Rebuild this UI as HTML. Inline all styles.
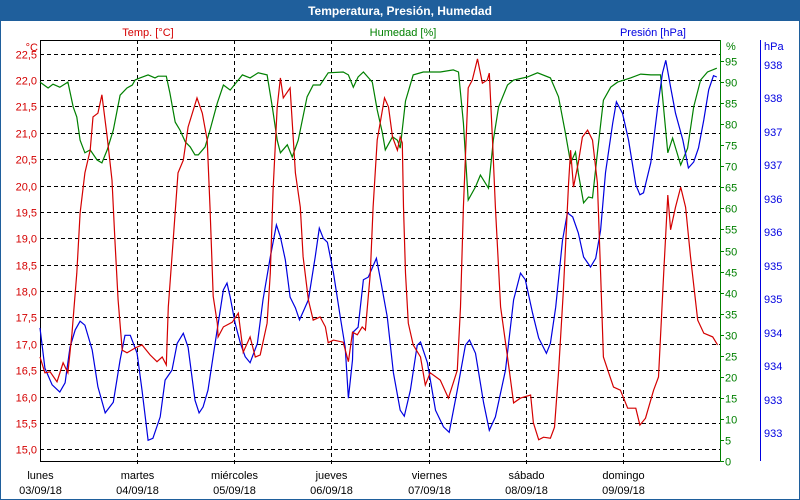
<!DOCTYPE html>
<html><head><meta charset="utf-8"><style>
html,body{margin:0;padding:0;background:#fff;}
#wrap{position:relative;width:798px;height:498px;border:1px solid #1f5f9c;background:#fff;overflow:hidden;font-family:"Liberation Sans",sans-serif;}
#title{position:absolute;left:0;top:0;width:798px;height:20px;background:#1f5f9c;color:#fff;font-weight:bold;font-size:12px;line-height:20px;text-align:center;}
svg text{font-family:"Liberation Sans",sans-serif;font-size:11px;}
</style></head><body>
<div id="wrap">
<div id="title">Temperatura, Presión, Humedad</div>
<svg id="chart" width="798" height="498" style="position:absolute;left:0;top:0"></svg>
</div>
<script>
const dayNames = ["lunes","martes","miércoles","jueves","viernes","sábado","domingo"];
const dayDates = ["03/09/18","04/09/18","05/09/18","06/09/18","07/09/18","08/09/18","09/09/18"];
const tempTicks = [15.0,15.5,16.0,16.5,17.0,17.5,18.0,18.5,19.0,19.5,20.0,20.5,21.0,21.5,22.0,22.5];
const humTicks = [0,5,10,15,20,25,30,35,40,45,50,55,60,65,70,75,80,85,90,95];
const presTicks = [938.4,937.9,937.4,936.9,936.4,935.9,935.4,934.9,934.4,933.9,933.4,932.9];
// [hours since start, °C]
const tempSeries = [[0,16.75],[1.2,16.45],[2.5,16.47],[4.2,16.28],[5.7,16.64],[6.9,16.45],[7.9,17.2],[9.1,18.34],[9.9,19.48],[11.1,20.24],[12.4,20.67],[13.1,21.3],[14.3,21.37],[15.3,21.72],[16.6,20.92],[17.8,20.1],[18.5,18.97],[19.3,17.83],[20.3,16.88],[21.5,16.83],[23.5,16.92],[25.2,16.98],[27.2,16.79],[28.9,16.66],[30.2,16.75],[31.2,16.6],[31.7,17.7],[32.9,18.97],[34.1,20.24],[35.4,20.48],[36.6,21.11],[38.8,21.66],[40.1,21.37],[41.3,20.86],[42.0,19.59],[42.8,17.9],[43.8,17.39],[44.0,17.13],[45.3,17.32],[47.5,17.41],[49.0,17.58],[50.2,16.84],[51.9,17.13],[53.2,16.75],[54.4,16.79],[56.1,17.39],[56.9,18.34],[57.6,19.92],[58.6,21.49],[59.4,22.04],[60.1,21.66],[61.8,21.85],[63.1,20.24],[64.3,19.59],[65.0,18.65],[66.3,17.83],[67.5,17.45],[69.2,17.51],[70.5,17.32],[71.2,17.02],[72.5,17.07],[74.9,17.03],[76.2,16.66],[77.2,17.22],[78.4,17.17],[79.6,17.32],[80.4,17.26],[81.6,18.34],[82.3,19.59],[83.3,20.86],[85.1,21.66],[86.1,21.49],[87.1,20.92],[88.3,20.67],[89.0,20.92],[89.5,20.81],[89.8,19.59],[90.3,18.34],[91.0,17.39],[92.2,16.98],[94.0,16.75],[95.2,16.22],[96.4,16.45],[98.9,16.31],[100.9,15.97],[103.1,16.5],[103.9,17.7],[104.6,19.59],[105.8,21.85],[106.8,22.0],[108.1,22.4],[109.3,21.94],[110.5,22.0],[111.0,22.13],[111.8,20.86],[112.5,19.59],[113.8,17.7],[115.5,16.75],[117.0,15.88],[118.7,15.97],[121.2,16.03],[121.9,15.5],[123.2,15.18],[124.4,15.23],[126.1,15.21],[127.1,15.42],[128.1,16.45],[129.3,18.02],[130.6,20.05],[131.1,20.67],[131.8,19.97],[133.0,20.43],[134.0,20.92],[135.3,21.05],[136.5,20.86],[137.7,20.05],[138.5,18.34],[139.2,16.75],[140.5,16.45],[141.7,16.18],[143.4,16.12],[145.2,15.78],[147.2,15.78],[148.2,15.46],[149.6,15.59],[151.6,16.12],[152.8,16.37],[154.1,18.34],[155.1,19.82],[155.8,19.16],[157.0,19.59],[158.3,19.97],[159.5,19.59],[160.7,18.65],[162.5,17.45],[164.0,17.2],[166.2,17.13],[167.4,16.98]];
// [hours, %]
const humSeries = [[0,90.0],[2.0,88.6],[3.2,89.5],[4.9,88.8],[6.9,90.0],[8.2,84.1],[9.1,81.7],[9.9,76.2],[11.1,73.2],[12.4,73.9],[14.1,71.5],[15.3,70.8],[16.6,73.9],[18.1,78.6],[19.8,86.9],[21.5,88.6],[22.8,89.3],[23.5,90.5],[24.7,91.0],[26.7,91.7],[28.4,91.0],[29.2,91.4],[31.2,91.4],[32.1,87.4],[33.4,80.5],[34.6,78.6],[35.9,75.8],[37.1,74.6],[38.3,72.7],[39.1,72.7],[40.8,74.6],[42.0,78.6],[43.8,85.0],[45.3,89.3],[47.0,88.1],[50.0,91.7],[51.9,91.0],[53.9,92.2],[56.1,91.7],[57.4,84.1],[58.6,76.2],[59.4,73.2],[61.1,75.1],[62.3,72.2],[63.8,76.2],[66.0,86.5],[67.5,89.3],[69.2,89.3],[71.2,92.2],[74.9,92.4],[76.2,91.7],[77.4,88.8],[78.6,91.2],[79.9,92.4],[82.1,90.0],[83.3,83.4],[84.6,77.9],[85.3,73.9],[87.1,77.0],[88.3,76.2],[89.0,74.3],[90.3,85.5],[92.2,91.7],[94.7,92.4],[98.9,92.4],[102.1,92.9],[103.4,92.4],[104.6,80.3],[105.8,62.0],[107.6,65.1],[108.8,67.9],[110.8,64.8],[112.0,76.2],[113.3,84.1],[115.5,89.3],[117.0,90.5],[120.4,91.2],[122.9,92.2],[126.1,91.0],[128.1,86.5],[129.8,77.9],[131.1,70.8],[132.3,73.4],[133.0,68.4],[134.3,61.3],[135.5,62.7],[136.5,62.5],[137.7,73.2],[139.2,85.7],[141.0,88.8],[142.7,90.0],[145.9,91.0],[148.4,91.9],[150.9,91.7],[153.3,91.7],[155.1,73.2],[156.3,76.7],[158.3,70.3],[160.0,74.3],[161.5,84.1],[163.2,90.5],[164.9,92.4],[167.2,93.3]];
// [hours, hPa]
const presSeries = [[0,934.47],[1.2,933.87],[3.0,933.62],[4.9,933.51],[6.2,933.65],[7.4,934.18],[8.7,934.44],[9.9,934.57],[11.1,934.51],[12.9,934.14],[14.3,933.59],[16.1,933.2],[18.1,933.36],[19.8,933.99],[21.0,934.36],[22.3,934.36],[24.0,934.09],[25.2,933.54],[26.7,932.79],[27.9,932.82],[29.7,933.14],[30.9,933.69],[32.6,933.84],[33.9,934.24],[35.4,934.39],[36.6,934.18],[38.3,933.39],[39.3,933.2],[40.3,933.29],[41.5,933.54],[43.3,934.26],[45.3,935.04],[46.2,935.14],[47.0,934.93],[48.2,934.54],[49.5,934.24],[50.7,934.04],[51.9,933.95],[53.7,934.24],[55.1,934.89],[56.9,935.53],[58.4,936.01],[59.4,935.83],[60.6,935.49],[61.8,934.93],[63.1,934.77],[64.1,934.59],[65.0,934.71],[66.3,934.89],[68.0,935.53],[69.0,935.96],[70.0,935.81],[71.0,935.75],[72.5,935.29],[74.2,934.63],[75.4,934.18],[76.2,933.42],[77.2,933.99],[77.4,934.41],[78.6,934.48],[79.9,935.19],[81.1,935.23],[83.1,935.51],[84.1,935.2],[85.8,934.63],[87.3,933.8],[89.0,933.24],[90.0,933.15],[91.5,933.54],[93.2,934.21],[94.0,934.26],[95.7,933.95],[97.7,933.24],[99.7,932.99],[101.1,932.91],[103.1,933.54],[105.1,934.21],[106.1,934.29],[107.6,934.09],[109.6,933.35],[111.0,932.94],[112.5,933.14],[115.0,933.84],[117.0,934.89],[118.7,935.29],[119.9,935.19],[121.7,934.69],[123.2,934.32],[125.1,934.09],[126.1,934.24],[127.4,934.78],[129.1,935.78],[130.3,936.19],[131.6,936.13],[133.0,935.89],[134.3,935.53],[136.0,935.38],[137.3,935.51],[138.5,935.93],[139.7,936.79],[141.5,937.53],[142.4,937.85],[143.9,937.68],[145.4,937.28],[147.2,936.61],[148.2,936.46],[149.1,936.49],[150.9,936.94],[152.6,937.77],[153.8,938.28],[154.6,938.47],[155.8,938.07],[157.0,937.68],[158.8,937.28],[160.2,936.86],[161.5,936.95],[162.7,937.16],[164.0,937.58],[165.2,938.03],[166.4,938.24],[167.2,938.22]];

const NS = "http://www.w3.org/2000/svg";
const svg = document.getElementById("chart");
const X0 = 39, X1 = 719, YT = 39, YB = 460;
const HOURS = 168;
const xOf = h => X0 + (h / HOURS) * (X1 - X0);
const yTemp = t => 79 + (22 - t) * 52.76;
const yHum = v => YB - v * 4.21;
const yPres = p => 64 + (938.4 - p) * 66.9;
const RED = "#d40000", GREEN = "#008000", BLUE = "#0000e0";

function mk(tag, attrs, parent) {
  const e = document.createElementNS(NS, tag);
  for (const k in attrs) e.setAttribute(k, attrs[k]);
  (parent || svg).appendChild(e);
  return e;
}
function txt(s, x, y, fill, anchor) {
  const t = mk("text", { x: x, y: y, fill: fill, "text-anchor": anchor || "start" });
  t.textContent = s;
  return t;
}

// horizontal grid from temperature ticks
tempTicks.forEach(t => {
  const y = Math.round(yTemp(t)) + 0.5;
  const g = mk("line", { x1: X0, x2: X1, y1: y, y2: y, stroke: "#000", "stroke-dasharray": "4,3" });
  
  
  const lb = txt(t.toFixed(1).replace(".", ","), 36, y + 4, RED, "end");
  
  
});
// vertical grid & day labels
dayNames.forEach((d, i) => {
  const x = Math.round(xOf(i * 24)) + 0.5;
  if (i > 0) {
    const g = mk("line", { x1: x, x2: x, y1: YT, y2: YB + 6, stroke: "#000", "stroke-dasharray": "4,3" });
    
    
  }
  const a = txt(d, x, 478, "#000", "middle");
  
  
  const b = txt(dayDates[i], x, 493, "#000", "middle");
  
  
});
// axes frame
let a1 = mk("line", { x1: X0 + 0.5, x2: X0 + 0.5, y1: YT, y2: YB + 1, stroke: "#000" });
 
let a2 = mk("line", { x1: X0, x2: X1, y1: YT + 0.5, y2: YT + 0.5, stroke: "#000" });
 
let a3 = mk("line", { x1: X0, x2: X1, y1: YB + 0.5, y2: YB + 0.5, stroke: "#000" });
 
let a4 = mk("line", { x1: X1 + 0.5, x2: X1 + 0.5, y1: YT, y2: YB + 1, stroke: GREEN });
 
let a5 = mk("line", { x1: 759.5, x2: 759.5, y1: YT, y2: YB, stroke: BLUE });
 

humTicks.forEach(v => {
  const y = Math.round(yHum(v)) + 0.5;
  const tk = mk("line", { x1: X1, x2: X1 + 4, y1: y, y2: y, stroke: GREEN });
  
  
  const lb = txt(String(v), 724, y + 4, GREEN);
  
  
});
presTicks.forEach(p => {
  const y = Math.round(yPres(p));
  const lb = txt(p.toFixed(0), 763, y + 4, BLUE);
  
  
});

// unit labels & series titles
let u1 = txt("°C", 37, 50, RED, "end");  
let u2 = txt("%", 725, 49, GREEN);  
let u3 = txt("hPa", 763, 49, BLUE);  
let s1 = txt("Temp. [°C]", 147, 35, RED, "middle");  
let s2 = txt("Humedad [%]", 402, 35, GREEN, "middle");  
let s3 = txt("Presión [hPa]", 685, 35, BLUE, "end");  

function pathOf(series, yf) {
  return series.map((d, i) => (i ? "L" : "M") + xOf(d[0]).toFixed(1) + "," + yf(d[1]).toFixed(1)).join("");
}
const pg = mk("path", { d: pathOf(humSeries, yHum), fill: "none", stroke: GREEN, "stroke-width": 1.2 });


const pb = mk("path", { d: pathOf(presSeries, yPres), fill: "none", stroke: BLUE, "stroke-width": 1.2 });


const pr = mk("path", { d: pathOf(tempSeries, yTemp), fill: "none", stroke: RED, "stroke-width": 1.2 });


</script>
</body></html>
